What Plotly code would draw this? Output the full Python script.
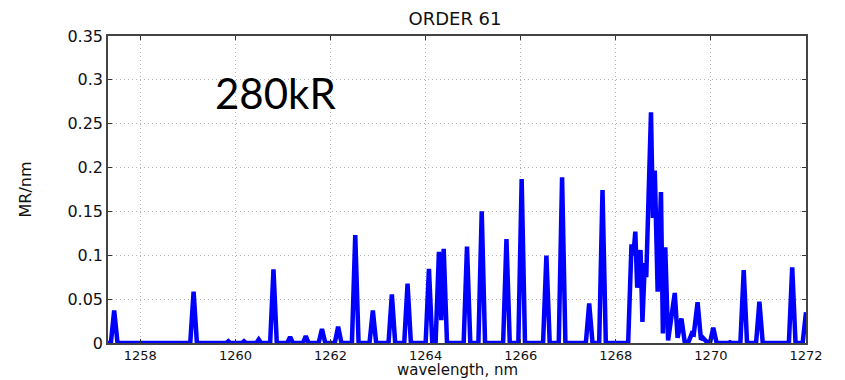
import plotly.graph_objects as go

# Spectrum trace vertices: wavelength (nm) and brightness (MR/nm)
wavelength_nm = [
    1257.32, 1257.38, 1257.45, 1257.52,
    1259.05, 1259.12, 1259.19,
    1259.55, 1259.59, 1259.63,
    1259.81, 1259.85, 1259.89,
    1260.14, 1260.18, 1260.22,
    1260.44, 1260.49, 1260.54,
    1260.73, 1260.80, 1260.87,
    1261.09, 1261.15, 1261.21,
    1261.42, 1261.48, 1261.54,
    1261.75, 1261.82, 1261.89,
    1262.09, 1262.16, 1262.23,
    1262.45, 1262.52, 1262.59,
    1262.82, 1262.89, 1262.96,
    1263.22, 1263.29, 1263.36,
    1263.55, 1263.62, 1263.69,
    1264.00, 1264.07, 1264.14,
    1264.21, 1264.28, 1264.33, 1264.38, 1264.45,
    1264.80, 1264.87, 1264.94,
    1265.11, 1265.18, 1265.25,
    1265.63, 1265.70, 1265.77,
    1265.95, 1266.02, 1266.09,
    1266.47, 1266.54, 1266.61,
    1266.80, 1266.87, 1266.94,
    1267.37, 1267.44, 1267.51,
    1267.65, 1267.72, 1267.79,
    1268.26, 1268.33, 1268.37, 1268.41, 1268.45, 1268.52, 1268.56,
    1268.61, 1268.64, 1268.74, 1268.78, 1268.82, 1268.88, 1268.95,
    1268.99, 1269.04, 1269.10, 1269.24, 1269.30, 1269.38, 1269.45,
    1269.52, 1269.60, 1269.64, 1269.72, 1269.79, 1269.83, 1269.90,
    1269.98, 1270.05, 1270.12,
    1270.36, 1270.40, 1270.44,
    1270.62, 1270.69, 1270.76,
    1270.95, 1271.02, 1271.09,
    1271.64, 1271.71, 1271.78,
    1271.93, 1272.00,
]
brightness_mr_nm = [
    0.0, 0.0, 0.037, 0.0,
    0.0, 0.0585, 0.0,
    0.0, 0.001, 0.0,
    0.0, 0.002, 0.0,
    0.0, 0.002, 0.0,
    0.0, 0.004, 0.0,
    0.0, 0.084, 0.0,
    0.0, 0.007, 0.0,
    0.0, 0.008, 0.0,
    0.0, 0.016, 0.0,
    0.0, 0.0186, 0.0,
    0.0, 0.123, 0.0,
    0.0, 0.037, 0.0,
    0.0, 0.0555, 0.0,
    0.0, 0.0676, 0.0,
    0.0, 0.0844, 0.0,
    0.0, 0.1038, 0.026, 0.1075, 0.0,
    0.0, 0.110, 0.0,
    0.0, 0.150, 0.0,
    0.0, 0.1186, 0.0,
    0.0, 0.187, 0.0,
    0.0, 0.0996, 0.0,
    0.0, 0.189, 0.0,
    0.0, 0.0452, 0.0,
    0.0, 0.1745, 0.0,
    0.0, 0.1125, 0.100, 0.127, 0.063, 0.106, 0.024,
    0.091, 0.075, 0.263, 0.1425, 0.1965, 0.0585, 0.172,
    0.011, 0.109, 0.003, 0.057, 0.006, 0.028, 0.001,
    0.0, 0.011, 0.010, 0.0464, 0.004, 0.006, 0.002,
    0.0, 0.0175, 0.0,
    0.0, 0.001, 0.0,
    0.0, 0.083, 0.0,
    0.0, 0.047, 0.0,
    0.0, 0.0863, 0.0,
    0.0, 0.035,
]

x_ticks = [1258, 1260, 1262, 1264, 1266, 1268, 1270, 1272]
y_ticks = [0, 0.05, 0.1, 0.15, 0.2, 0.25, 0.3, 0.35]
y_tick_labels = ["0", "0.05", "0.1", "0.15", "0.2", "0.25", "0.3", "0.35"]

sans = "DejaVu Sans, Arial, sans-serif"

fig = go.Figure()
fig.add_trace(go.Scatter(
    x=wavelength_nm,
    y=brightness_mr_nm,
    mode="lines",
    line=dict(color="#0000ff", width=4.5),
    showlegend=False,
))

fig.update_layout(
    width=845,
    height=380,
    margin=dict(l=108, r=39, t=36, b=37),
    paper_bgcolor="white",
    plot_bgcolor="white",
    title=dict(
        text="ORDER 61",
        font=dict(family=sans, size=18, color="#111"),
        x=455 / 845, xanchor="center",
        y=1 - 19 / 380, yanchor="middle",
        xref="container", yref="container",
    ),
    annotations=[
        dict(
            text="280kR",
            xref="paper", yref="paper",
            x=(275 - 108) / 698, y=(343 - 93) / 307,
            xanchor="center", yanchor="middle",
            showarrow=False,
            font=dict(family="Lato, Open Sans, sans-serif", size=42, color="black"),
        ),
        # x-axis title, placed just below the tick labels
        dict(
            text="wavelength, nm",
            xref="paper", yref="paper",
            x=(457 - 108) / 698, y=(343 - 380) / 307,
            xanchor="center", yanchor="bottom",
            showarrow=False, borderpad=0,
            font=dict(family=sans, size=15, color="#111"),
        ),
    ],
)

grid_style = dict(showgrid=True, gridcolor="#b5b5b5", griddash="1px,3px", gridwidth=1)

fig.update_xaxes(
    range=[1257.32, 1272.0],
    tickvals=x_ticks,
    ticktext=[str(v) for v in x_ticks],
    ticks="inside", ticklen=4, tickcolor="#333",
    showline=True, linecolor="#444", linewidth=1.5, mirror="ticks",
    zeroline=False,
    automargin=False,
    ticklabelstandoff=0,
    tickfont=dict(family=sans, size=13, color="#111"),
    **grid_style,
)
fig.update_yaxes(
    range=[0, 0.35],
    tickvals=y_ticks,
    ticktext=y_tick_labels,
    ticks="inside", ticklen=4, tickcolor="#333",
    showline=True, linecolor="#444", linewidth=1.5, mirror="ticks",
    zeroline=False,
    automargin=False,
    tickfont=dict(family=sans, size=16, color="#111"),
    title=dict(text="MR/nm",
               font=dict(family=sans, size=16, color="#111"),
               standoff=32),
    **grid_style,
)

fig.write_html("out.html")
